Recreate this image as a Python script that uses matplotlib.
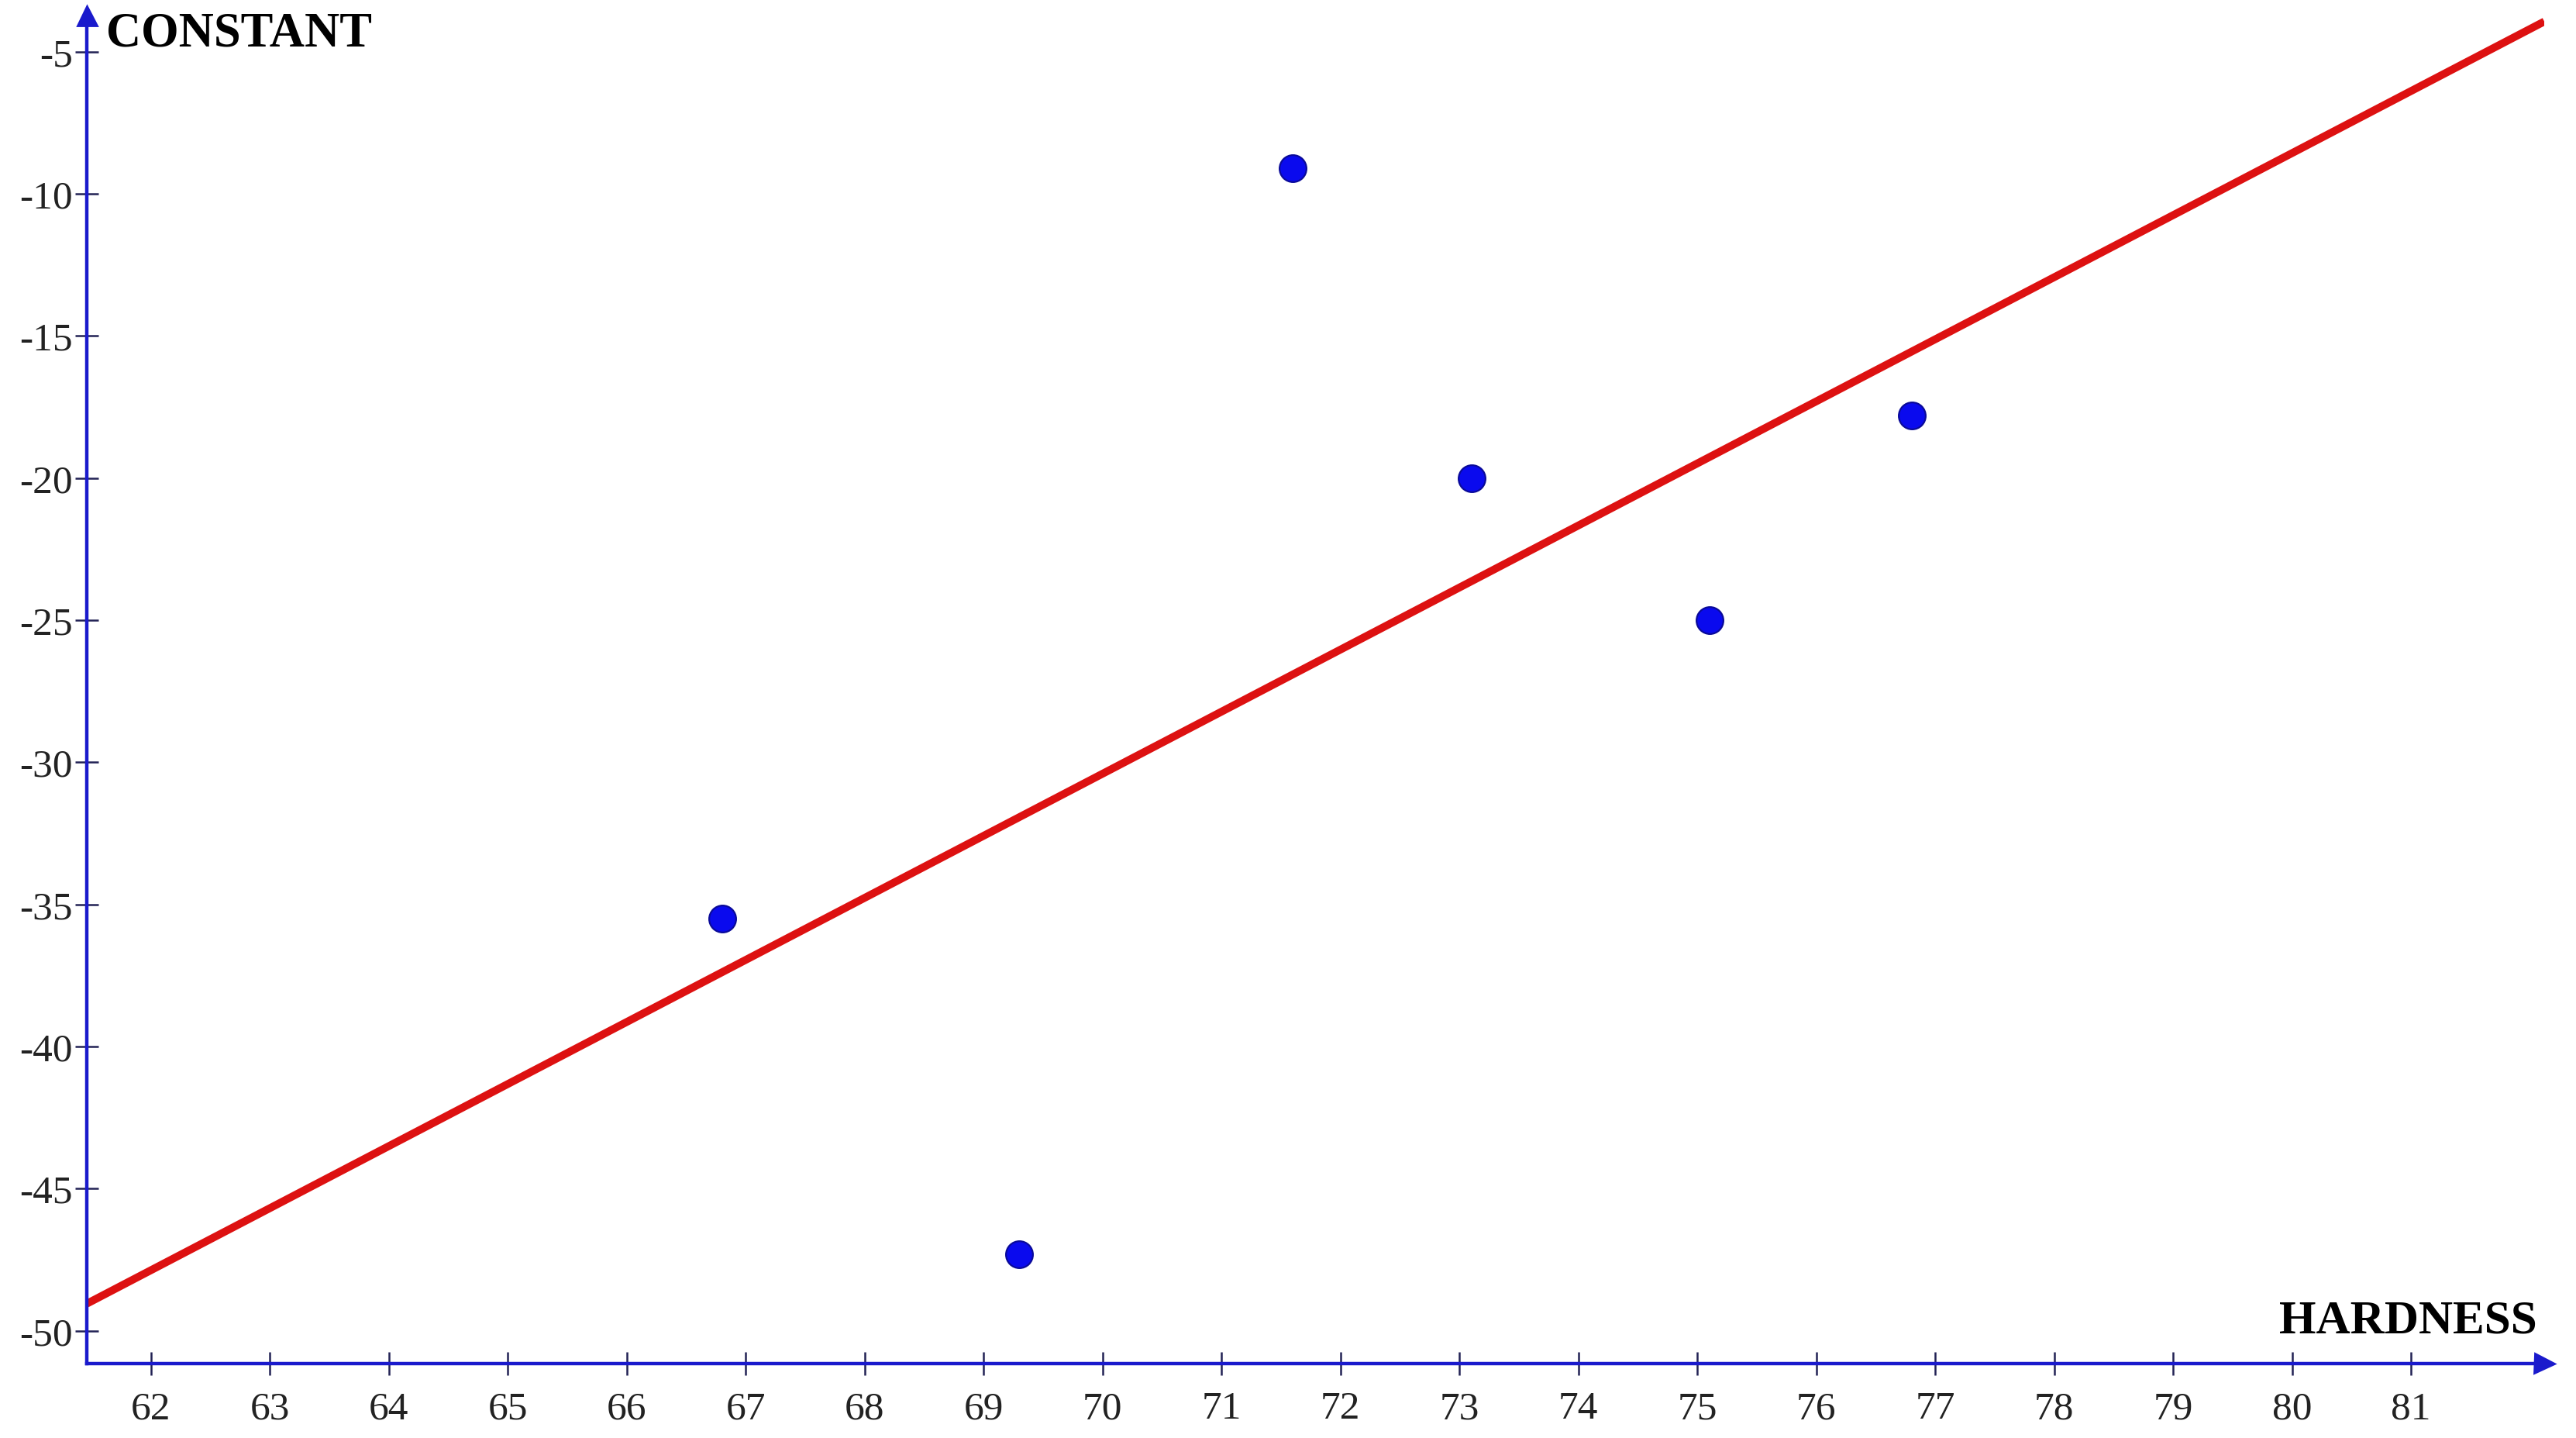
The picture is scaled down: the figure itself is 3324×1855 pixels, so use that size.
# Scatter of CONSTANT vs HARDNESS with least-squares line
import numpy as np
import matplotlib
matplotlib.use('Agg')
import matplotlib.pyplot as plt

plt.rcParams['font.family'] = ['Liberation Serif', 'DejaVu Serif']
plt.rcParams['axes.unicode_minus'] = False

hardness = [66.8, 69.3, 71.6, 73.1, 75.1, 76.8]
constant = [-35.5, -47.3, -9.1, -20.0, -25.0, -17.8]
x_ticks = list(range(62, 82))
y_ticks = list(range(-50, 0, 5))

blue = '#1a1acc'
fig = plt.figure(figsize=(16.62, 9.28), dpi=200)
ax = fig.add_axes([0.0337, 0.0517, 0.954, 0.937])
ax.set_xlim(61.46, 82.12)
ax.set_ylim(-51.16, -3.73)

# regression line across the whole axis
k, b = np.polyfit(hardness, constant, 1)
xl = np.array(ax.get_xlim())
ax.plot(xl, k * xl + b, color='#dd1111', lw=3.6, solid_capstyle='butt', zorder=2)
ax.plot(hardness, constant, 'o', color='#0a0aee', mec='#0a0a99', mew=0.8, ms=12.5, zorder=3)

for s in ['top', 'right']:
    ax.spines[s].set_visible(False)
for s in ['left', 'bottom']:
    ax.spines[s].set_color(blue)
    ax.spines[s].set_linewidth(1.6)
# arrow heads
ax.plot(1, 0, '>', color=blue, ms=9, transform=ax.transAxes, clip_on=False)
ax.plot(0, 1, '^', color=blue, ms=9, transform=ax.transAxes, clip_on=False)

ax.set_xticks(x_ticks)
ax.set_yticks(y_ticks)
ax.tick_params(direction='inout', length=11, width=0.9, color='#222255',
               labelsize=18.5, labelcolor='#222222')
ax.tick_params(axis='x', pad=7)
ax.tick_params(axis='y', pad=1)

ax.text(0.008, 1.003, 'CONSTANT', transform=ax.transAxes, ha='left', va='top',
        fontsize=22.5, fontweight='bold')
ax.text(0.997, 0.016, 'HARDNESS', transform=ax.transAxes, ha='right', va='bottom',
        fontsize=22, fontweight='bold')

fig.savefig('out.png', dpi=200, facecolor='white')
